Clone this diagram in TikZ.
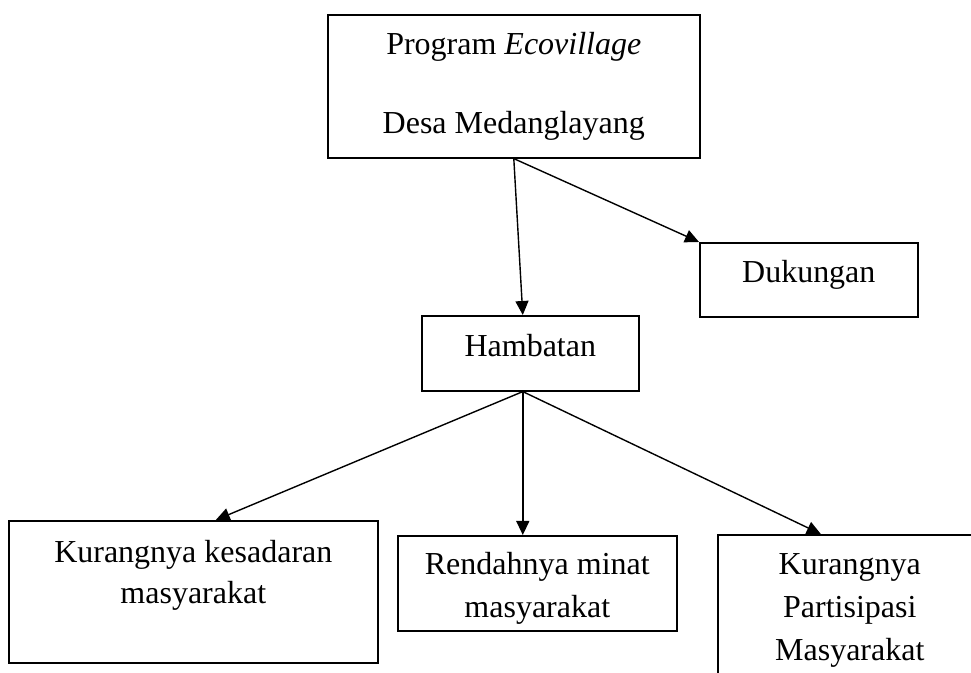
\documentclass[tikz,border=0pt]{standalone}
\usepackage{fontspec}
\setmainfont{Liberation Serif}
\usetikzlibrary{arrows.meta}

\begin{document}
\begin{tikzpicture}[x=0.5pt, y=-0.5pt,
  box/.style={draw, line width=0.8pt, inner sep=0pt, anchor=north west, align=center,
    font=\fontsize{16pt}{21.5pt}\selectfont},
  >={Triangle[length=7pt, width=6.5pt]}]

\useasboundingbox (0,0) rectangle (971,673);

% program box on top
\node[box, minimum width=186pt, text height=59.5pt, text depth=12pt] (program) at (327,14)
  {Program \textit{Ecovillage}\\[18pt] Desa Medanglayang};

% second layer
\node[box, minimum width=108.5pt, text height=20.5pt, text depth=17pt] (hambatan) at (421,315) {Hambatan};
\node[box, minimum width=109pt, text height=20pt, text depth=17pt] (dukungan) at (699,242) {Dukungan};
\draw[->, line width=0.7pt] (program.south) -- ([xshift=-3.75pt]hambatan.north);
\draw[->, line width=0.7pt] (program.south) -- (dukungan.north west);


% plot the third layer
\node[box, minimum width=184.5pt, text height=41.5pt, text depth=29.5pt] (kesadaran) at (8,520)
  {Kurangnya kesadaran\\[-1pt] masyarakat};
\node[box, minimum width=139.5pt, text height=41pt, text depth=6.5pt] (minat) at (397,535)
  {Rendahnya minat\\ masyarakat};
\node[box, minimum width=132pt, text height=63pt, text depth=37pt] (partisipasi) at (717,534)
  {Kurangnya\\ Partisipasi\\ Masyarakat};

\coordinate (fork) at ([xshift=-3.75pt]hambatan.south);
\draw[->, line width=0.7pt] (fork) -- ([xshift=11.25pt]kesadaran.north);
\draw[->, line width=0.7pt] (fork) -- ([xshift=-7.25pt]minat.north);
\draw[->, line width=0.7pt] (fork) -- ([xshift=-14.5pt]partisipasi.north);

\end{tikzpicture}
\end{document}
